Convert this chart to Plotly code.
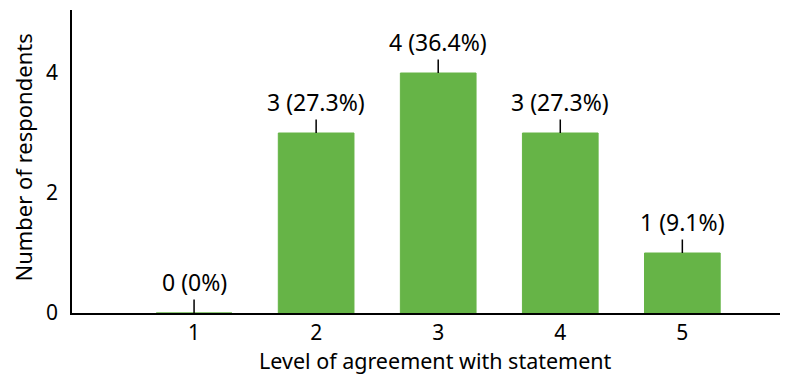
import plotly.graph_objects as go

categories = [1, 2, 3, 4, 5]
counts = [0, 3, 4, 3, 1]
percents = ["0%", "27.3%", "36.4%", "27.3%", "9.1%"]
y_ticks = [0, 2, 4]
x_title = "Level of agreement with statement"
y_title = "Number of respondents"

green = "#66b447"
font_family = "Noto Sans, Open Sans, sans-serif"

fig = go.Figure()
fig.add_trace(go.Bar(
    x=categories, y=counts, width=0.62,
    marker=dict(color=green, line=dict(color=green, width=1)),
    hoverinfo="skip",
))

for c, v, p in zip(categories, counts, percents):
    fig.add_annotation(
        x=c, y=v, xref="x", yref="y",
        text=f"{v} ({p})",
        showarrow=True, arrowhead=0, arrowwidth=1.5, arrowcolor="black",
        ax=0, ay=-31, borderpad=1,
        font=dict(family=font_family, size=23, color="black"),
    )

fig.add_annotation(text=x_title, xref="paper", yref="paper", x=0.514, y=-0.156,
                   xanchor="center", yanchor="middle", showarrow=False,
                   font=dict(family=font_family, size=21.5, color="black"))
fig.add_annotation(text=y_title, xref="paper", yref="paper", x=-0.0692, y=0.513,
                   xanchor="center", yanchor="middle", showarrow=False, textangle=-90,
                   font=dict(family=font_family, size=22, color="black"))

fig.update_layout(
    width=786, height=368,
    margin=dict(l=64, r=14, t=2, b=63),
    plot_bgcolor="white", paper_bgcolor="white",
    showlegend=False,
    font=dict(family=font_family, size=19, color="black"),
    xaxis=dict(
        range=[0, 5.8], tickmode="array", tickvals=categories,
        ticktext=[str(c) for c in categories],
        showline=True, linecolor="black", linewidth=1.5,
        showgrid=False, zeroline=False, ticks="",
        tickfont=dict(size=21),
        automargin=False,
    ),
    yaxis=dict(
        range=[0, 5.05], tickmode="array", tickvals=y_ticks,
        showline=True, linecolor="black", linewidth=1.5,
        showgrid=False, zeroline=False, ticks="",
        tickfont=dict(size=21),
        ticklabelstandoff=8,
        automargin=False,
    ),
)

fig.write_html("out.html")
